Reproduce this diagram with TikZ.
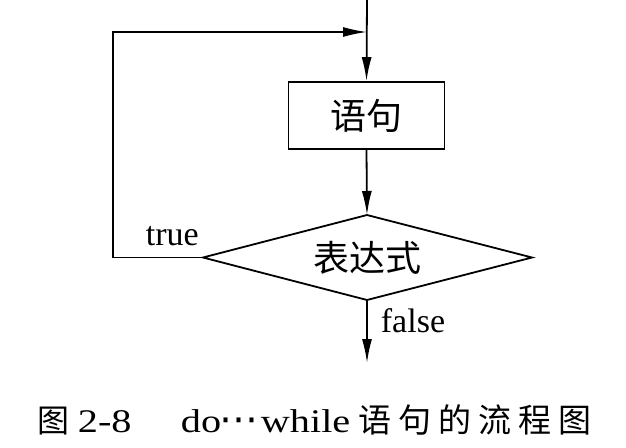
\documentclass[tikz,border=0pt]{standalone}
\usepackage{fontspec}
\setmainfont{Liberation Serif}
\newfontfamily\cjk{Noto Sans CJK SC}
\newfontfamily\widelat[FakeStretch=1.22]{Liberation Serif}
\newfontfamily\dejavu{DejaVu Sans}
\usetikzlibrary{arrows.meta}
\begin{document}
\begin{tikzpicture}[x=1pt,y=-1pt,line width=1.8pt,
  arr/.style={-{Latex[length=24pt,width=10pt]}},
  lbl/.style={font=\fontsize{34}{34}\selectfont, inner sep=0pt},
  cjklbl/.style={font=\cjk\fontsize{36}{36}\selectfont, inner sep=0pt}]
\useasboundingbox (0,0) rectangle (626,447);
\node[draw, minimum width=156pt, minimum height=67pt, inner sep=0pt, cjklbl] (box) at (366.5,115.5) {语句};
\coordinate (dn) at (367,215);
\coordinate (ds) at (367,300);
\coordinate (dw) at (203,257.5);
\coordinate (de) at (532,257.5);
\draw (dn) -- (de) -- (ds) -- (dw) -- cycle;
\node[cjklbl] (dia) at (367,257.5) {表达式};
\coordinate (top) at (367,0);
\coordinate (join) at (367,32);
\coordinate (lc) at (113,32);
\coordinate (end) at (367,363);
\draw[arr] (top) -- (box.north);
\draw[arr] (box.south) -- (dn);
\draw[arr] (dw) -- (lc |- dw) -- (lc) -- (join);
\draw[arr] (ds) -- (end);
\node[lbl, anchor=base west] (t) at (145,245) {true};
\node[lbl, anchor=base west] (f) at (380,332) {false};
\node[anchor=base west, inner sep=0pt, font=\widelat\fontsize{33}{33}\selectfont] (cap) at (37,432)
  {\makebox[40pt][l]{\cjk\fontsize{32}{32}\selectfont 图}\makebox[103pt][l]{2-8}\makebox[37pt][l]{do}\makebox[43pt][c]{\dejavu\fontsize{39}{39}\selectfont ⋯}\makebox[98pt][l]{while}{\cjk\fontsize{33}{33}\selectfont 语\hspace{7pt}句\hspace{7pt}的\hspace{7pt}流\hspace{7pt}程\hspace{7pt}图}};
\end{tikzpicture}
\end{document}
